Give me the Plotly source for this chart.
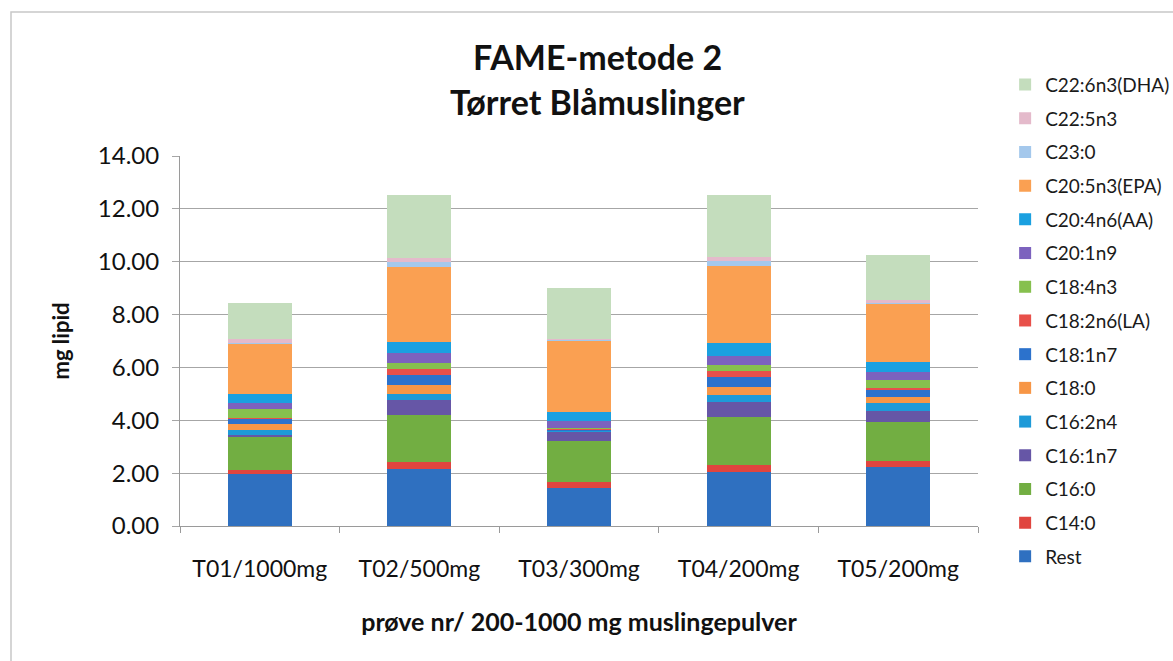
import plotly.graph_objects as go

samples = ["T01/1000mg", "T02/500mg", "T03/300mg", "T04/200mg", "T05/200mg"]

# Fatty acid components, listed from the bottom of each stack to the top
rest      = [1.95, 2.15, 1.43, 2.05, 2.24]
c14_0     = [0.17, 0.28, 0.25, 0.26, 0.23]
c16_0     = [1.26, 1.77, 1.55, 1.80, 1.48]
c16_1n7   = [0.05, 0.57, 0.34, 0.59, 0.41]
c16_2n4   = [0.19, 0.23, 0.03, 0.26, 0.31]
c18_0     = [0.25, 0.34, 0.03, 0.31, 0.22]
c18_1n7   = [0.18, 0.37, 0.03, 0.38, 0.29]
c18_2n6   = [0.04, 0.22, 0.02, 0.23, 0.04]
c18_4n3   = [0.33, 0.23, 0.03, 0.21, 0.30]
c20_1n9   = [0.22, 0.37, 0.25, 0.34, 0.32]
c20_4n6   = [0.34, 0.42, 0.36, 0.48, 0.38]
c20_5n3   = [1.93, 2.84, 2.70, 2.93, 2.18]
c23_0     = [0.03, 0.20, 0.02, 0.20, 0.03]
c22_5n3   = [0.12, 0.14, 0.04, 0.13, 0.12]
c22_6n3   = [1.36, 2.40, 1.92, 2.35, 1.70]

series = [
    ("Rest", rest, "#2F70C0"),
    ("C14:0", c14_0, "#E0453F"),
    ("C16:0", c16_0, "#72AE42"),
    ("C16:1n7", c16_1n7, "#6656A6"),
    ("C16:2n4", c16_2n4, "#1E9AD8"),
    ("C18:0", c18_0, "#F79646"),
    ("C18:1n7", c18_1n7, "#2C72CC"),
    ("C18:2n6(LA)", c18_2n6, "#E8504A"),
    ("C18:4n3", c18_4n3, "#86C04E"),
    ("C20:1n9", c20_1n9, "#7C62BE"),
    ("C20:4n6(AA)", c20_4n6, "#1AA0E0"),
    ("C20:5n3(EPA)", c20_5n3, "#FAA052"),
    ("C23:0", c23_0, "#A4C8EC"),
    ("C22:5n3", c22_5n3, "#E4BACB"),
    ("C22:6n3(DHA)", c22_6n3, "#C4DDBD"),
]

FONT = "Lato"
INK = "#111111"

fig = go.Figure()
n = len(series)
for i, (name, vals, col) in enumerate(series):
    fig.add_trace(go.Bar(
        x=samples, y=vals, name=name,
        marker=dict(color=col, line=dict(width=0)),
        legendgroup=f"g{i}",
        legendrank=100 + (n - i),   # top of the stack listed first
    ))

# plot area: x 180..978, y 156..526 (pixels)
fig.update_layout(
    width=1173, height=661,
    barmode="stack", bargap=0.6,
    paper_bgcolor="white", plot_bgcolor="white",
    margin=dict(l=180, r=195, t=156, b=135, autoexpand=False),
    font=dict(family=FONT, color=INK),
    showlegend=True,
    legend=dict(
        traceorder="grouped", tracegroupgap=6,
        x=1.034, xanchor="left", y=1.244, yanchor="top",
        font=dict(size=19, family=FONT, color="#1a1a1a"),
        itemwidth=30, maxheight=700,
    ),
    xaxis=dict(
        showgrid=False, showline=True, linecolor="#9a9a9a", linewidth=1,
        ticks="outside", tickson="boundaries", ticklen=6, tickcolor="#9a9a9a",
        ticklabelstandoff=22,
        tickfont=dict(size=23, family=FONT, color=INK),
        title=dict(text="<b>prøve nr/ 200-1000 mg muslingepulver</b>",
                   font=dict(size=25, family=FONT, color=INK), standoff=32),
    ),
    yaxis=dict(
        range=[0, 14], dtick=2, tickformat=".2f",
        showgrid=True, gridcolor="#a6a6a6", gridwidth=1,
        zeroline=False, showline=True, linecolor="#9a9a9a", linewidth=1,
        ticks="outside", ticklen=7, tickcolor="#a6a6a6",
        ticklabelstandoff=8,
        tickfont=dict(size=24, family=FONT, color=INK),
        title=dict(text="<b>mg lipid</b>", font=dict(size=22, family=FONT, color=INK),
                   standoff=22),
    ),
    annotations=[
        dict(text="<b>FAME-metode 2</b>", xref="paper", yref="paper",
             x=(597 - 180) / 798, y=1.0 + (156 - 56) / 370,
             xanchor="center", yanchor="middle",
             showarrow=False, font=dict(size=34, family=FONT, color=INK)),
        dict(text="<b>Tørret Blåmuslinger</b>", xref="paper", yref="paper",
             x=(597 - 180) / 798, y=1.0 + (156 - 102) / 370,
             xanchor="center", yanchor="middle",
             showarrow=False, font=dict(size=34, family=FONT, color=INK)),
    ],
    shapes=[
        dict(type="rect", xref="paper", yref="paper",
             x0=-(180 - 11) / 798, x1=1.0 + (1180 - 978) / 798,
             y0=-(700 - 526) / 370, y1=1.0 + (156 - 12) / 370,
             line=dict(color="#c8c8c8", width=1.5)),
    ],
)

fig.write_html("out.html")
